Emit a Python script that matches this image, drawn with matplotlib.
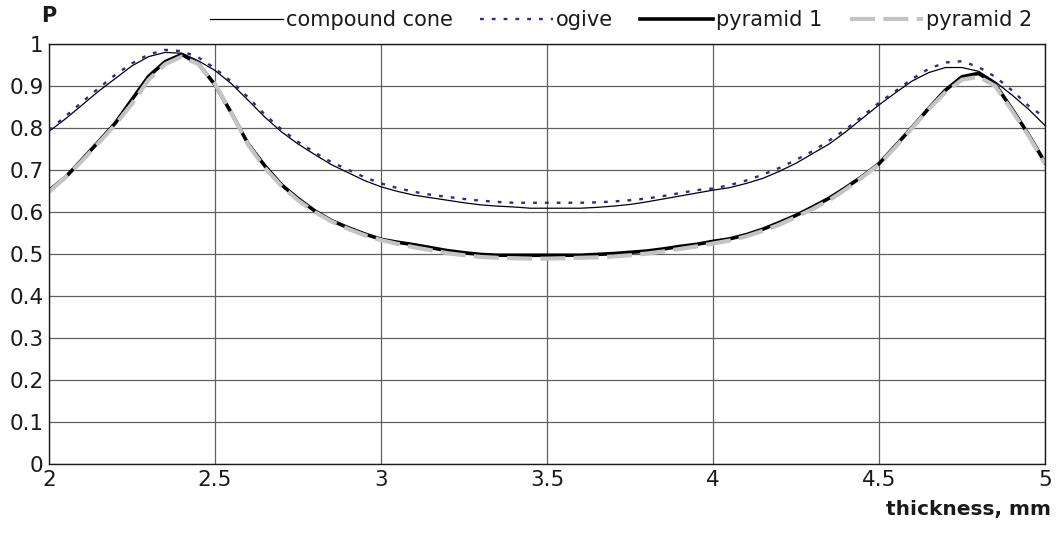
import numpy as np
import matplotlib
matplotlib.use("Agg")
import matplotlib.pyplot as plt

# thickness, mm
thickness = np.round(np.arange(2.0, 5.0001, 0.05), 2)

compound_cone = [
    0.792, 0.822, 0.855, 0.888, 0.918, 0.948, 0.970, 0.980, 0.978, 0.960,
    0.937, 0.905, 0.866, 0.826, 0.791, 0.762, 0.737, 0.713, 0.694, 0.675,
    0.660, 0.649, 0.640, 0.634, 0.628, 0.622, 0.617, 0.614, 0.612, 0.609,
    0.609, 0.609, 0.609, 0.611, 0.614, 0.618, 0.624, 0.631, 0.638, 0.645,
    0.652, 0.658, 0.668, 0.680, 0.697, 0.716, 0.739, 0.762, 0.791, 0.823,
    0.855, 0.884, 0.912, 0.932, 0.944, 0.944, 0.935, 0.910, 0.879, 0.845,
    0.806,
]

ogive = [
    0.795, 0.828, 0.862, 0.895, 0.927, 0.954, 0.975, 0.986, 0.983, 0.968,
    0.942, 0.910, 0.873, 0.832, 0.797, 0.767, 0.742, 0.719, 0.701, 0.683,
    0.668, 0.657, 0.648, 0.641, 0.636, 0.631, 0.627, 0.624, 0.622, 0.622,
    0.622, 0.622, 0.622, 0.623, 0.625, 0.628, 0.632, 0.638, 0.645, 0.652,
    0.656, 0.664, 0.675, 0.689, 0.705, 0.724, 0.745, 0.770, 0.797, 0.828,
    0.860, 0.888, 0.917, 0.941, 0.956, 0.959, 0.945, 0.922, 0.890, 0.853,
    0.825,
]

pyramid_1 = [
    0.651, 0.683, 0.725, 0.768, 0.812, 0.868, 0.923, 0.958, 0.975, 0.953,
    0.903, 0.835, 0.762, 0.710, 0.665, 0.632, 0.603, 0.580, 0.563, 0.548,
    0.535, 0.528, 0.522, 0.515, 0.508, 0.503, 0.499, 0.497, 0.497, 0.497,
    0.497, 0.497, 0.497, 0.499, 0.501, 0.504, 0.507, 0.512, 0.518, 0.523,
    0.530, 0.536, 0.546, 0.559, 0.575, 0.592, 0.612, 0.633, 0.658, 0.685,
    0.715, 0.758, 0.802, 0.847, 0.890, 0.922, 0.930, 0.904, 0.846, 0.785,
    0.718,
]

pyramid_2 = [
    0.648, 0.683, 0.722, 0.765, 0.808, 0.858, 0.915, 0.952, 0.970, 0.952,
    0.905, 0.835, 0.760, 0.705, 0.662, 0.628, 0.600, 0.578, 0.560, 0.545,
    0.533, 0.524, 0.516, 0.509, 0.502, 0.497, 0.493, 0.491, 0.490, 0.489,
    0.489, 0.490, 0.491, 0.492, 0.494, 0.497, 0.501, 0.506, 0.512, 0.518,
    0.525, 0.532, 0.542, 0.555, 0.570, 0.588, 0.607, 0.628, 0.654, 0.683,
    0.713, 0.755, 0.800, 0.845, 0.885, 0.915, 0.922, 0.900, 0.842, 0.782,
    0.715,
]

series_names = ["compound cone", "ogive", "pyramid 1", "pyramid 2"]
x_ticks = [2, 2.5, 3, 3.5, 4, 4.5, 5]
x_tick_labels = ["2", "2.5", "3", "3.5", "4", "4.5", "5"]
y_ticks = [0, 0.1, 0.2, 0.3, 0.4, 0.5, 0.6, 0.7, 0.8, 0.9, 1.0]
y_tick_labels = ["0", "0.1", "0.2", "0.3", "0.4", "0.5", "0.6", "0.7", "0.8", "0.9", "1"]

plt.rcParams["font.family"] = ["DejaVu Sans"]

W, H = 1057, 533
fig = plt.figure(figsize=(W / 100, H / 100), dpi=100)
ax = fig.add_axes([49 / W, 1 - 464 / H, (1045 - 49) / W, (464 - 44) / H])

ax.plot(thickness, compound_cone, color="black", lw=0.9, label=series_names[0], zorder=3)
ax.plot(thickness, ogive, color="#2b2b8f", lw=1.7, linestyle=(0, (1.6, 3.4)),
        label=series_names[1], zorder=4)
ax.plot(thickness, pyramid_1, color="black", lw=2.6, label=series_names[2], zorder=2)
ax.plot(thickness, pyramid_2, color="#c4c4c4", lw=3.0, linestyle=(0, (6.0, 2.0)),
        label=series_names[3], zorder=2.5)

ax.set_xlim(2, 5)
ax.set_ylim(0, 1)
ax.set_xticks(x_ticks)
ax.set_xticklabels(x_tick_labels)
ax.set_yticks(y_ticks)
ax.set_yticklabels(y_tick_labels)
ax.tick_params(axis="both", length=0, labelsize=15.5, colors="#1a1a1a")
ax.tick_params(axis="x", pad=4)
ax.tick_params(axis="y", pad=4)
ax.grid(True, color="#606060", lw=0.9)
ax.set_axisbelow(True)
for s in ax.spines.values():
    s.set_color("#1a1a1a")
    s.set_linewidth(1.0)

fig.text(41 / W, 1 - 16 / H, "P", fontsize=15, fontweight="bold", va="center", ha="left",
         color="#1a1a1a")
fig.text(1051 / W, 1 - 509 / H, "thickness, mm", fontsize=14.5, fontweight="bold",
         va="center", ha="right", color="#1a1a1a")

fig.legend(loc="center left", bbox_to_anchor=(210 / W, 1 - 20 / H), ncol=4, frameon=False,
           fontsize=15, handlelength=3.5, handletextpad=0.15, columnspacing=1.3,
           borderpad=0, borderaxespad=0, labelcolor="#1a1a1a")

fig.savefig("out.png", dpi=100)
